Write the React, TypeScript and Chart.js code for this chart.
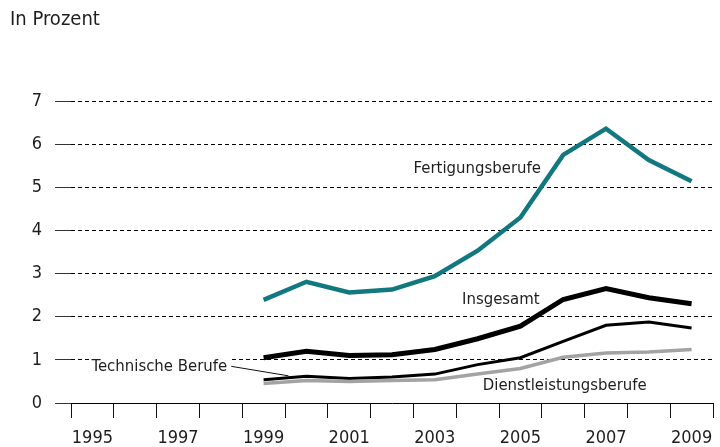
import React, { useEffect, useRef } from "react";
import { Chart, registerables } from "chart.js";

Chart.register(...registerables);

const years = ["1995","1996","1997","1998","1999","2000","2001","2002","2003","2004","2005","2006","2007","2008","2009"];
const fertigung = [null,null,null,null,2.39,2.81,2.56,2.63,2.94,3.53,4.30,5.75,6.36,5.63,5.14];
const insgesamt = [null,null,null,null,1.05,1.20,1.10,1.12,1.24,1.49,1.78,2.40,2.65,2.44,2.30];
const technisch = [null,null,null,null,0.54,0.62,0.57,0.60,0.67,0.89,1.05,1.43,1.80,1.88,1.74];
const dienst = [null,null,null,null,0.45,0.52,0.50,0.52,0.54,0.67,0.80,1.06,1.16,1.18,1.24];
const yTicks = [0,1,2,3,4,5,6,7];

const FONT = "'Liberation Sans Narrow', 'DejaVu Sans Condensed', 'Roboto Condensed', 'Liberation Sans', sans-serif";
const TEXT = "#1e1e1e";

const labelPlugin = {
  id: "labels",
  afterDatasetsDraw(chart: any) {
    const { ctx, scales } = chart;
    const x = scales.x, y = scales.y;
    ctx.save();
    ctx.font = `16.6px ${FONT}`;
    ctx.fillStyle = TEXT;
    ctx.textBaseline = "middle";
    ctx.textAlign = "right";
    ctx.fillText("Fertigungsberufe", x.getPixelForValue(10.48), y.getPixelForValue(5.43));
    ctx.fillText("Insgesamt", x.getPixelForValue(10.45), y.getPixelForValue(2.39));
    // Technische Berufe with white background
    const tx = x.getPixelForValue(3.15), ty = y.getPixelForValue(0.85);
    const w = ctx.measureText("Technische Berufe").width;
    ctx.fillStyle = "#fff";
    ctx.fillRect(tx - w - 2, ty - 9, w + 4, 17);
    ctx.fillStyle = TEXT;
    ctx.fillText("Technische Berufe", tx, ty);
    ctx.strokeStyle = "#111";
    ctx.lineWidth = 1;
    ctx.beginPath();
    ctx.moveTo(tx + 4, ty);
    ctx.lineTo(x.getPixelForValue(4.58), y.getPixelForValue(0.63));
    ctx.stroke();
    ctx.textAlign = "left";
    ctx.fillText("Dienstleistungsberufe", x.getPixelForValue(9.12), y.getPixelForValue(0.40));
    ctx.restore();
  },
  afterDraw(chart: any) {
    const { ctx } = chart;
    ctx.save();
    ctx.font = `20px ${FONT}`;
    ctx.fillStyle = TEXT;
    ctx.textAlign = "left";
    ctx.textBaseline = "middle";
    ctx.fillText("In Prozent", 10, 20);
    ctx.restore();
  },
};

export default function App() {
  const ref = useRef<HTMLCanvasElement>(null);
  useEffect(() => {
    document.body.style.margin = "0";
    const chart = new Chart(ref.current!, {
      type: "line",
      data: {
        labels: years,
        datasets: [
          { label: "Dienstleistungsberufe", data: dienst, borderColor: "#a3a3a3", borderWidth: 3.5, pointRadius: 0, tension: 0 },
          { label: "Technische Berufe", data: technisch, borderColor: "#000", borderWidth: 3, pointRadius: 0, tension: 0 },
          { label: "Insgesamt", data: insgesamt, borderColor: "#000", borderWidth: 5, pointRadius: 0, tension: 0 },
          { label: "Fertigungsberufe", data: fertigung, borderColor: "#11787f", borderWidth: 4.5, pointRadius: 0, tension: 0 },
        ],
      },
      options: {
        animation: false,
        responsive: false,
        maintainAspectRatio: false,
        layout: { padding: { top: 101, right: 7, left: 0, bottom: 0 } },
        plugins: { legend: { display: false }, tooltip: { enabled: false } },
        scales: {
          x: {
            type: "category",
            offset: true,
            grid: { offset: true, drawOnChartArea: false, drawTicks: true, tickLength: 15, color: "#111", tickColor: "#111" },
            border: { display: true, color: "#000", width: 1 },
            ticks: {
              autoSkip: false,
              maxRotation: 0,
              padding: 10,
              color: TEXT,
              font: { size: 18, family: FONT },
              callback: (v: any, i: number) => (i % 2 === 0 ? years[i] : ""),
            },
            afterFit: (s: any) => { s.height = 44; s.paddingLeft = 0; s.paddingRight = 0; },
          },
          y: {
            min: 0,
            max: 7,
            afterBuildTicks: (s: any) => { s.ticks = yTicks.map((v) => ({ value: v })); },
            grid: { color: "#000", lineWidth: 1, tickLength: 16, tickColor: "#333", tickBorderDash: [] },
            border: { display: false, dash: [4, 3] },
            ticks: { padding: 13, color: TEXT, font: { size: 18, family: FONT } },
            afterFit: (s: any) => { s.width = 71; },
          },
        },
      },
      plugins: [labelPlugin],
    });
    return () => chart.destroy();
  }, []);
  return (
    <div style={{ width: 720, height: 447 }}>
      <canvas ref={ref} width={720} height={447} style={{ display: "block" }} />
    </div>
  );
}
